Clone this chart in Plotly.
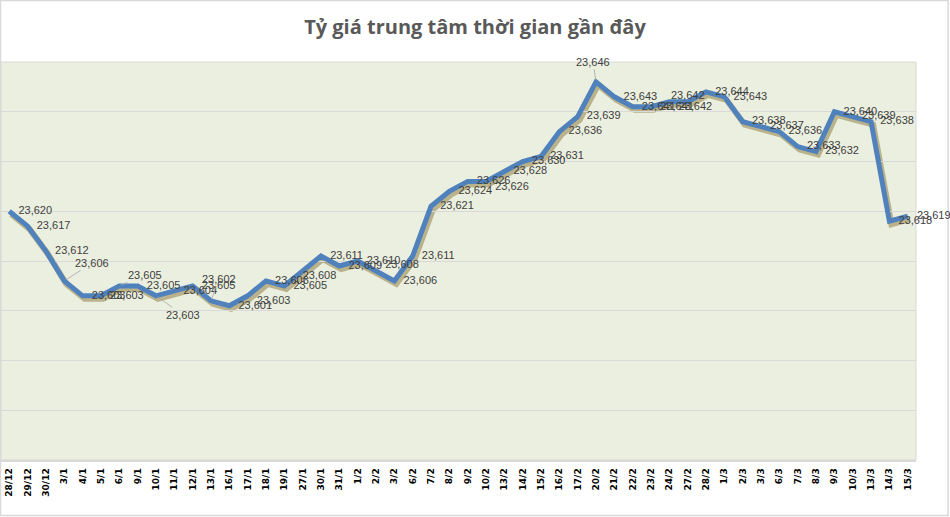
import plotly.graph_objects as go

# ngày giao dịch
dates = ["28/12", "29/12", "30/12",
         "3/1", "4/1", "5/1", "6/1", "9/1", "10/1", "11/1", "12/1", "13/1",
         "16/1", "17/1", "18/1", "19/1", "27/1", "30/1", "31/1",
         "1/2", "2/2", "3/2", "6/2", "7/2", "8/2", "9/2", "10/2", "13/2",
         "14/2", "15/2", "16/2", "17/2", "20/2", "21/2", "22/2", "23/2",
         "24/2", "27/2", "28/2",
         "1/3", "2/3", "3/3", "6/3", "7/3", "8/3", "9/3", "10/3", "13/3",
         "14/3", "15/3"]

# tỷ giá trung tâm (VND/USD)
rates = [23620, 23617, 23612,
         23606, 23603, 23603, 23605, 23605, 23603, 23604, 23605, 23602,
         23601, 23603, 23606, 23605, 23608, 23611, 23609,
         23610, 23608, 23606, 23611, 23621, 23624, 23626, 23626, 23628,
         23630, 23631, 23636, 23639, 23646, 23643, 23641, 23641,
         23642, 23642, 23644,
         23643, 23638, 23637, 23636, 23633, 23632, 23640, 23639, 23638,
         23618, 23619]

pad = "\u00a0\u00a0\u00a0"
n = len(dates)

# vị trí nhãn số liệu
label_pos = ["middle right"] * n
templates = [pad + "%{y:,}"] * n
for i, p in {13: "bottom right", 20: "top right", 26: "bottom right",
             36: "bottom right"}.items():
    label_pos[i] = p
label_pos[16] = "bottom right"
templates[16] = "%{y:,}"
label_pos[37] = "top center"
templates[37] = "%{y:,}"

# nhãn có đường dẫn (offset px)
leaders = {3: (28, -18), 6: (26, -11), 8: (27, 19), 11: (8, -22), 32: (-3, -20)}
for i in leaders:
    templates[i] = ""

W, H = 950, 517
L, R, T, B = 1, 916, 62, 460
x0, x1 = L / W, R / W
y0, y1 = 1 - B / H, 1 - T / H
dx, dy = 2 / W, 3 / H

fig = go.Figure()

# bóng của đường (trục phụ lệch vài px)
fig.add_trace(go.Scatter(
    x=dates, y=rates, mode="lines",
    line=dict(color="rgba(125,105,35,0.45)", width=6),
    hoverinfo="skip", showlegend=False))

fig.add_trace(go.Scatter(
    x=dates, y=rates, mode="lines+text", xaxis="x2", yaxis="y2",
    line=dict(color="#4F81BD", width=5),
    texttemplate=templates, textposition=label_pos, cliponaxis=False,
    textfont=dict(family="Liberation Sans, Arial", size=11, color="#404040"),
    showlegend=False))

annotations = []
for i, (ax, ay) in leaders.items():
    annotations.append(dict(
        x=dates[i], y=rates[i], xref="x2", yref="y2",
        text=f"{rates[i]:,}", showarrow=True, arrowhead=0, arrowwidth=0.8,
        arrowcolor="#A6A6A6", ax=ax, ay=ay, standoff=2,
        font=dict(family="Liberation Sans, Arial", size=11, color="#404040")))

rng_x = [-0.45, n - 0.55]
rng_y = [23570, 23650]

fig.update_layout(
    width=W, height=H,
    margin=dict(l=0, r=0, t=0, b=0),
    paper_bgcolor="white",
    plot_bgcolor="rgba(0,0,0,0)",
    title=dict(text="<b>Tỷ giá trung tâm thời gian gần đây</b>",
               x=0.5, xanchor="center", y=1 - 27 / H, yanchor="middle",
               font=dict(family="Open Sans, Liberation Sans", size=20,
                         color="#595959")),
    xaxis=dict(domain=[x0 + dx, x1 + dx], range=rng_x, type="category",
               visible=False),
    yaxis=dict(domain=[y0 - dy, y1 - dy], range=rng_y, visible=False),
    xaxis2=dict(domain=[x0, x1], range=rng_x, type="category", anchor="y2",
                tickangle=-90, showgrid=False, ticks="",
                ticklabelstandoff=3,
                tickfont=dict(family="DejaVu Sans", size=9, color="black"),
                showline=True, linecolor="#D9D9D9", linewidth=1.5,
                tickprefix="<b>", ticksuffix="</b>"),
    yaxis2=dict(domain=[y0, y1], range=rng_y, dtick=10, anchor="x2",
                showticklabels=False, gridcolor="#D9D9D9", gridwidth=1,
                zeroline=False, ticks=""),
    annotations=annotations,
    shapes=[
        dict(type="rect", xref="paper", yref="paper",
             x0=0.0005, x1=0.998, y0=0.003, y1=0.999,
             line=dict(color="#D9D9D9", width=1.5), layer="below"),
        dict(type="rect", xref="paper", yref="paper",
             x0=x0, x1=x1, y0=y0, y1=y1,
             fillcolor="#EBEFDF", line=dict(color="#D9D9D9", width=1),
             layer="below"),
    ],
)

fig.write_html("out.html", config={"displayModeBar": False},
               post_script="document.body.style.margin='0';")
